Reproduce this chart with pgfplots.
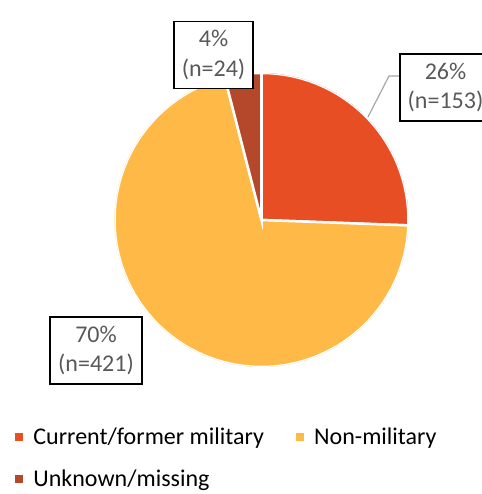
\documentclass[border=0pt]{standalone}
\usepackage{fontspec}
\setmainfont{Carlito}
\usepackage{pgfplots}
\pgfplotsset{compat=1.18}
\usepgfplotslibrary{polar}
\definecolor{mil}{HTML}{E84E24}
\definecolor{non}{HTML}{FFB946}
\definecolor{unk}{HTML}{B5482A}
\definecolor{lbl}{HTML}{595959}
\definecolor{lead}{HTML}{A6A6A6}
% data: counts per group
\def\nMil{153}\def\nNon{421}\def\nUnk{24}
\pgfmathsetmacro\tot{\nMil+\nNon+\nUnk}
\pgfmathsetmacro\aA{90-\nMil/\tot*360}
\pgfmathsetmacro\aB{\aA-\nNon/\tot*360}
\pgfmathsetmacro\aC{\aB-\nUnk/\tot*360}
\newcommand\lfont{\fontsize{24bp}{29.5bp}\selectfont}
\begin{document}
\begin{tikzpicture}
\useasboundingbox (0,0) rectangle (482bp,494bp);
\begin{polaraxis}[
  at={(261.5bp,274bp)}, anchor=center,
  width=294bp, height=294bp, scale only axis,
  hide axis, ymin=0, ymax=1,
  legend columns=2,
  legend style={draw=none, fill=none, inner sep=0pt,
    at={(axis description cs:-0.3384,-0.2007)}, anchor=north west,
    font=\lfont, row sep=19.5bp,
    /tikz/every even column/.append style={column sep=30bp},
    cells={anchor=west}},
  legend image code/.code={\fill[#1,draw=none] (0bp,-4bp) rectangle (8bp,4bp); \path (15bp,0bp);},
]
\addplot[fill=mil, draw=white, line width=2.5bp, domain=90:\aA, samples=90] {1} -- (axis cs:0,0) -- cycle;
\addlegendentry{Current/former military}
\addplot[fill=non, draw=white, line width=2.5bp, domain=\aA:\aB, samples=200] {1} -- (axis cs:0,0) -- cycle;
\addlegendentry{Non-military}
\addplot[fill=unk, draw=white, line width=2.5bp, domain=\aB:\aC, samples=20] {1} -- (axis cs:0,0) -- cycle;
\addlegendentry{Unknown/missing}
\end{polaraxis}
\draw[lead, line width=1.2bp] (400bp,418bp) -- (389bp,418bp) -- (368bp,377bp);
\tikzset{lab/.style={draw=black, fill=white, line width=1.3bp, align=center, text=lbl, font=\lfont, inner sep=0pt, minimum height=67bp}}
\node[lab, minimum width=79bp] at (213.5bp,439bp) {4\%\\(n=24)};
\node[lab, minimum width=91bp] at (445.5bp,406.5bp) {26\%\\(n=153)};
\node[lab, minimum width=92bp] at (96bp,143.5bp) {70\%\\(n=421)};
\end{tikzpicture}
\end{document}
